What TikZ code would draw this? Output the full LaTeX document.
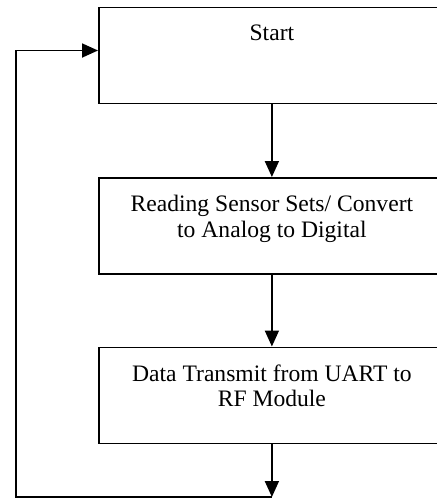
\documentclass[tikz,border=0pt]{standalone}
\usepackage{fontspec}
\setmainfont{Liberation Serif}
\usetikzlibrary{arrows.meta}
\begin{document}
\begin{tikzpicture}[x=1pt,y=1pt,
  boxstyle/.style={draw=black,line width=1.8pt,minimum width=346pt,minimum height=96pt,inner sep=0pt,anchor=north west},
  txt/.style={anchor=north,inner sep=0pt,align=center,font=\fontsize{23.6}{25.5}\selectfont},
  conn/.style={line width=1.8pt,-{Triangle[length=16pt,width=14pt]}}]
\useasboundingbox (0,0) rectangle (437,-499);
\clip (0,0) rectangle (437,-499);
\node[boxstyle] (b1) at (98,-6.5) {};
\node[boxstyle] (b2) at (98,-177) {};
\node[boxstyle] (b3) at (98,-346.5) {};
\node[txt] (t1) at ([yshift=-18pt]b1.north) {Start};
\node[txt] (t2) at ([yshift=-18pt]b2.north) {Reading Sensor Sets/ Convert\\to Analog to Digital};
\node[txt] (t3) at ([yshift=-18pt]b3.north) {Data Transmit from UART to\\RF Module};
\coordinate (c1) at (b3.south |- 0,-497);
\coordinate (c2) at (16,-497);
\coordinate (c3) at (16,-50.5);
\coordinate (c4) at (b1.west |- c3);
\draw[conn] (b1.south) -- (b2.north);
\draw[conn] (b2.south) -- (b3.north);
\draw[conn] (b3.south) -- (c1);
\draw[conn] (c1) -- (c2) -- (c3) -- (c4);
\end{tikzpicture}
\end{document}
